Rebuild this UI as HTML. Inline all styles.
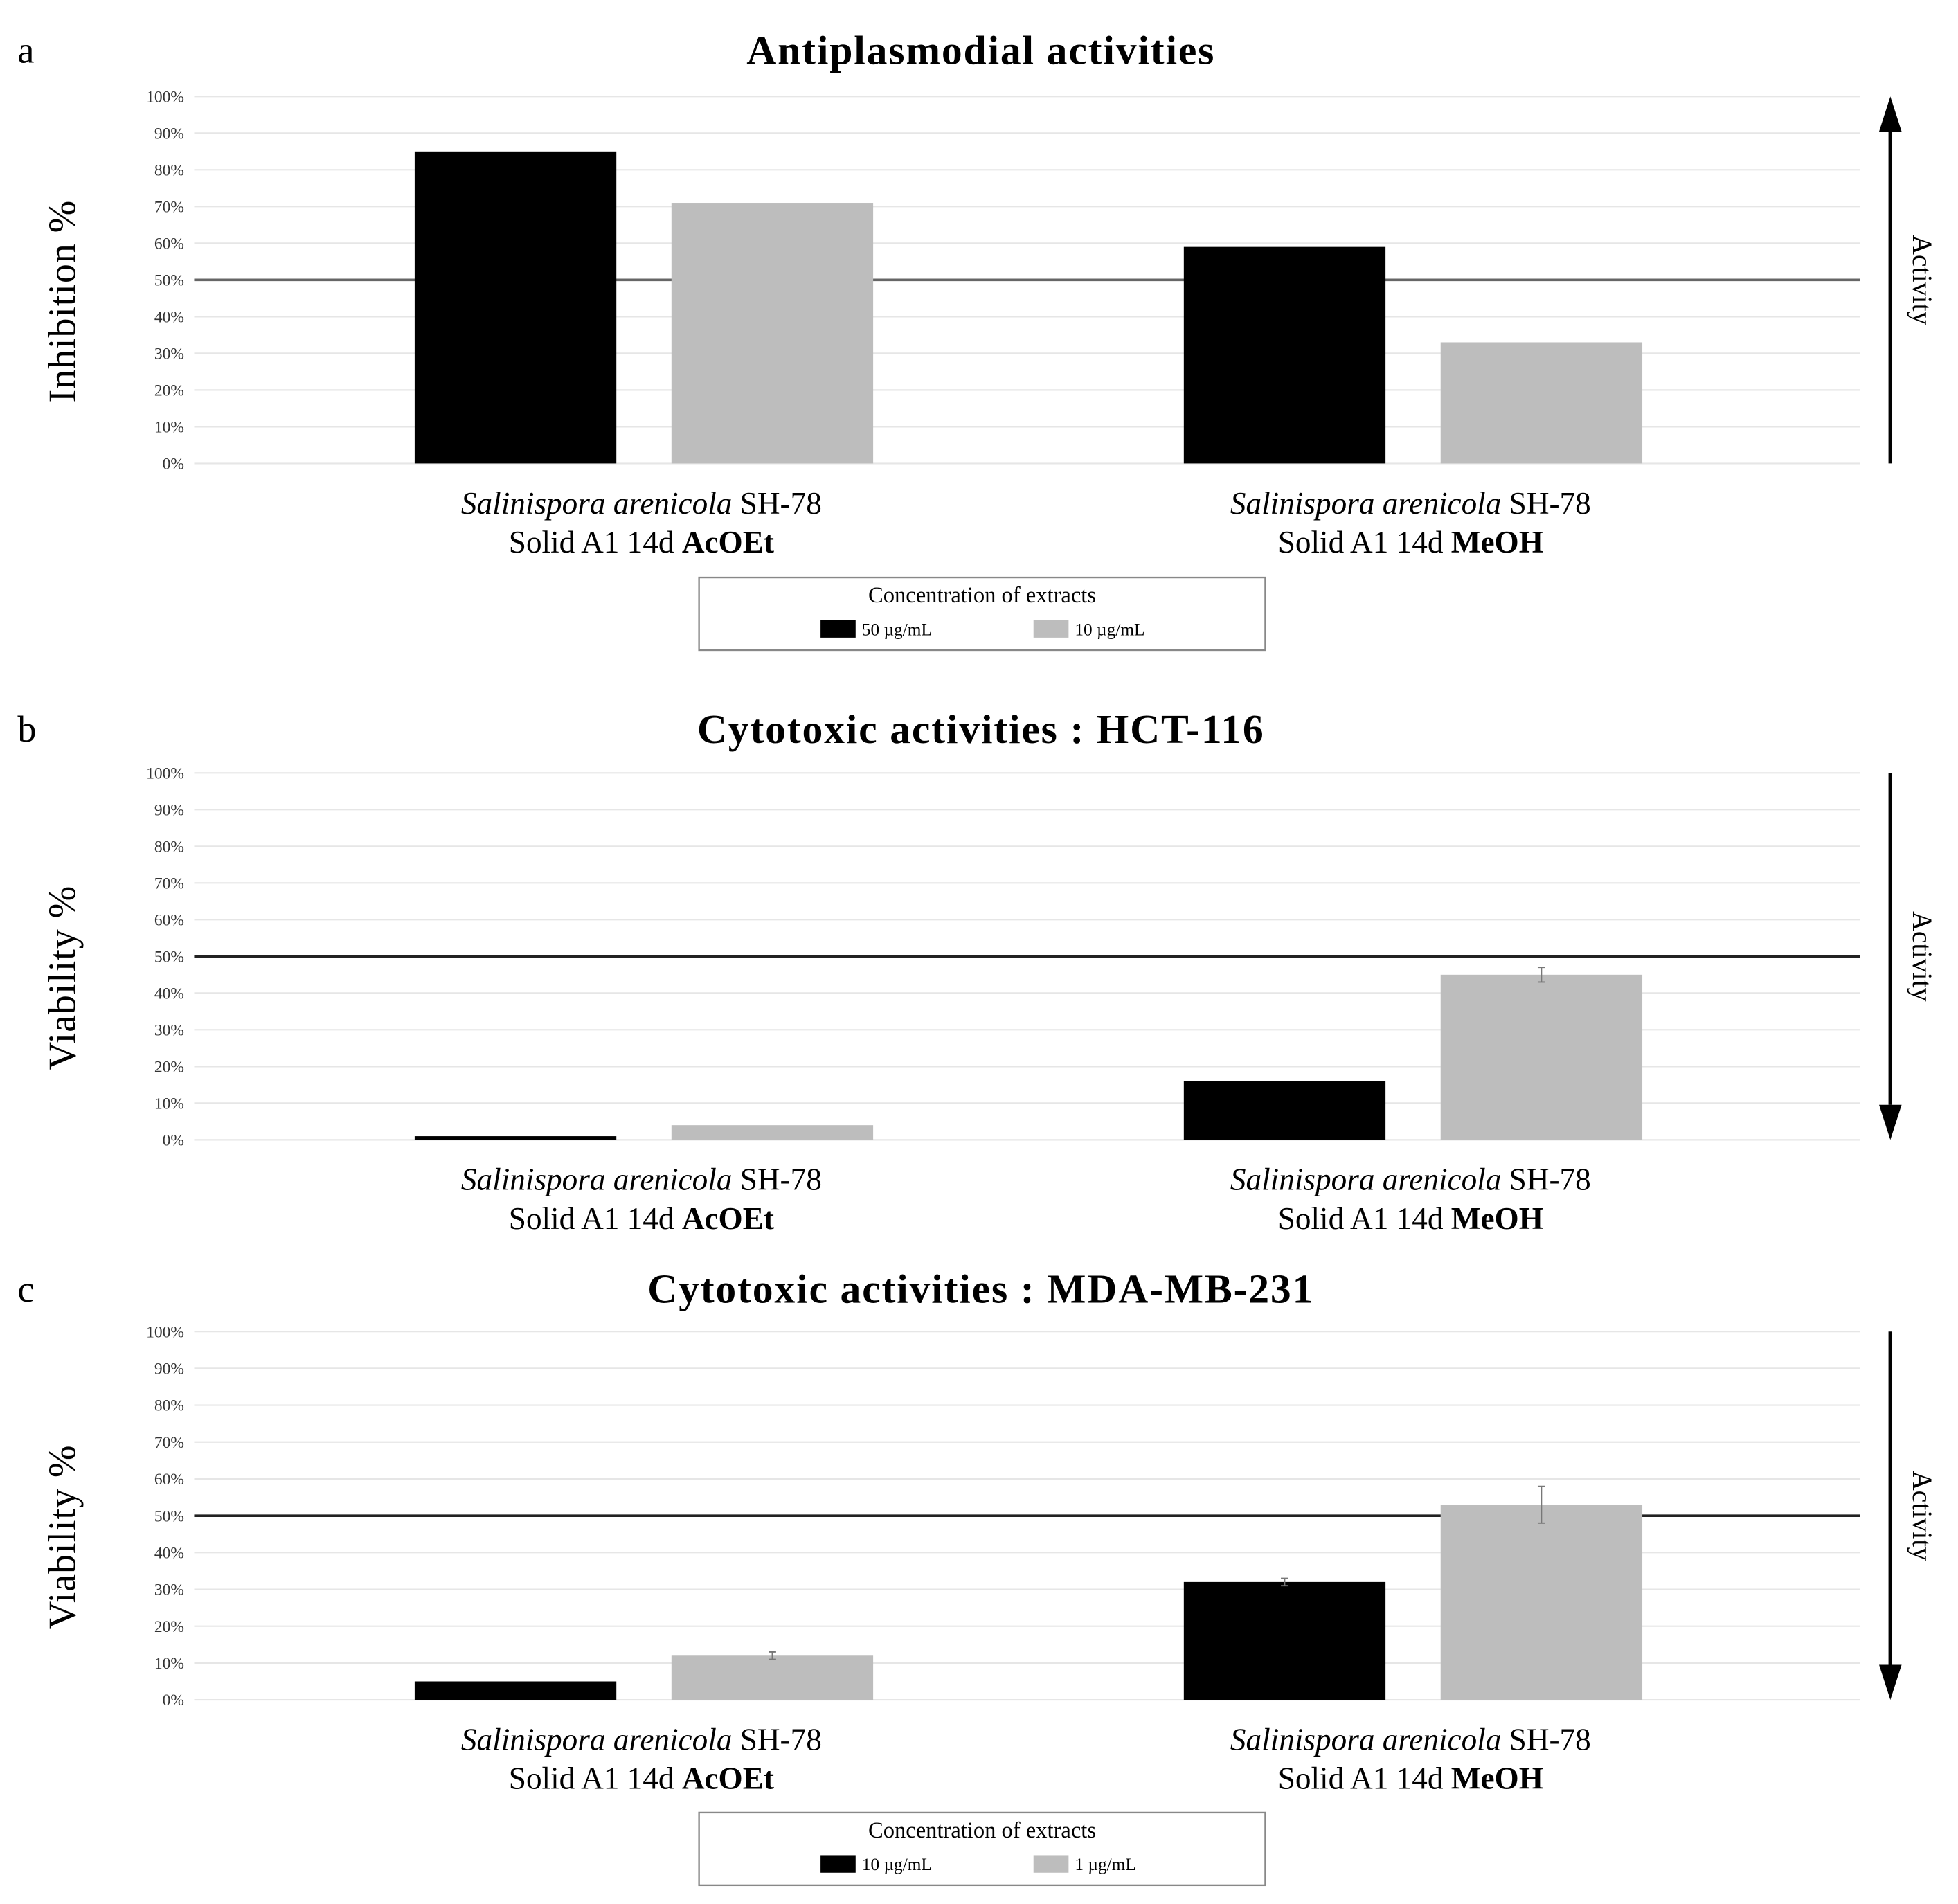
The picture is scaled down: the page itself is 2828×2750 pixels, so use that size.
<!DOCTYPE html>
<html><head><meta charset="utf-8"><style>
html,body{margin:0;padding:0;background:#fff;}
svg{display:block;}
text{font-family:"Liberation Serif",serif;}
</style></head><body>
<svg id="fig" width="2828" height="2750" viewBox="0 0 1563 1520" preserveAspectRatio="none" xmlns="http://www.w3.org/2000/svg"></svg>
<script>
const categories = ["AcOEt", "MeOH"];
const ticks = [0,10,20,30,40,50,60,70,80,90,100];
const tickLabels = ["0%","10%","20%","30%","40%","50%","60%","70%","80%","90%","100%"];
const aHigh = [85, 59];
const aLow = [71, 33];
const bHigh = [1, 16];
const bLow = [4, 45];
const bHighErr = [0, 0];
const bLowErr = [0, 2];
const cHigh = [5, 32];
const cLow = [12, 53];
const cHighErr = [0, 1];
const cLowErr = [1, 5];
const threshold = 50;

const NS = "http://www.w3.org/2000/svg";
const svg = document.getElementById("fig");
function mk(tag, attrs, parent){
  const e = document.createElementNS(NS, tag);
  for (const k in attrs) e.setAttribute(k, attrs[k]);
  (parent||svg).appendChild(e);
  return e;
}
const X0 = 155, X1 = 1485;
const groupLeft = [331, 945];
const barW = 161, barGap = 44;

function panel(cfg){
  const g = mk("g", {});
  
  
  const y = v => cfg.y0 - (v/100)*(cfg.y0 - cfg.y100);
  const lt = mk("text", {x:14, y:cfg.titleY+10, "font-size":30}, g);
  lt.textContent = cfg.letter;
  
  
  const tt = mk("text", {x:783, y:cfg.titleY+11, "font-size":33, "font-weight":"bold", "text-anchor":"middle", "letter-spacing":"1"}, g);
  tt.textContent = cfg.title;
  
  
  ticks.forEach((t,i)=>{
    const gl = mk("line", {x1:X0, x2:X1, y1:y(t), y2:y(t), stroke:"#e6e6e6", "stroke-width":1.2}, g);
    
    
    const tl = mk("text", {x:147, y:y(t)+4.5, "font-size":13, "text-anchor":"end", fill:"#333"}, g);
    tl.textContent = tickLabels[i];
    
    
  });
  const th = mk("line", {x1:X0, x2:X1, y1:y(threshold), y2:y(threshold), stroke:cfg.thColor, "stroke-width":2}, g);
  
  
  [cfg.high, cfg.low].forEach((series, s)=>{
    const errs = s===0 ? cfg.highErr : cfg.lowErr;
    series.forEach((v,i)=>{
      const x = groupLeft[i] + s*(barW+barGap);
      const r = mk("rect", {x:x, y:y(v), width:barW, height:y(0)-y(v), fill: s===0 ? "#000" : "#bdbdbd"}, g);
      
      
      if (errs && errs[i] > 0){
        const cx = x + barW/2;
        const e = mk("path", {d:`M${cx},${y(v+errs[i])}V${y(v-errs[i])}M${cx-3},${y(v+errs[i])}H${cx+3}M${cx-3},${y(v-errs[i])}H${cx+3}`, stroke:"#777", "stroke-width":1, fill:"none"}, g);
        
        
      }
    });
  });
  const yt = mk("text", {x:0, y:0, "font-size":31, "text-anchor":"middle", "letter-spacing":"0.5", transform:`translate(60,${(cfg.y0+cfg.y100)/2+17}) rotate(-90)`}, g);
  yt.textContent = cfg.ylabel;
  
  
  const ax = 1509;
  const up = cfg.arrowUp;
  const tipY = up ? cfg.y100 : cfg.y0;
  const baseY = up ? cfg.y0 : cfg.y100;
  const headY = up ? tipY + 28 : tipY - 28;
  const al = mk("line", {x1:ax, x2:ax, y1:baseY, y2:headY, stroke:"#000", "stroke-width":3}, g);
  
  
  const ah = mk("polygon", {points:`${ax},${tipY} ${ax-9},${headY} ${ax+9},${headY}`, fill:"#000"}, g);
  
  
  const at = mk("text", {x:0, y:0, "font-size":22, "text-anchor":"middle", transform:`translate(1527,${(cfg.y0+cfg.y100)/2}) rotate(90)`}, g);
  at.textContent = "Activity";
  
  
  categories.forEach((c,i)=>{
    const cx = groupLeft[i] + barW + barGap/2 - 2;
    const l1 = mk("text", {x:cx, y:cfg.y0+40, "font-size":25, "text-anchor":"middle"}, g);
    l1.innerHTML = '<tspan font-style="italic">Salinispora arenicola</tspan> SH-78';
    
    
    const l2 = mk("text", {x:cx, y:cfg.y0+71, "font-size":25, "text-anchor":"middle"}, g);
    l2.innerHTML = 'Solid A1 14d <tspan font-weight="bold">' + c + '</tspan>';
    
    
  });
}

function legend(top, lab1, lab2){
  const g = mk("g", {});
  
  
  const b = mk("rect", {x:558, y:top, width:452, height:58, fill:"#fff", stroke:"#888", "stroke-width":1.3}, g);
  
  
  const t = mk("text", {x:784, y:top+20, "font-size":18, "text-anchor":"middle"}, g);
  t.textContent = "Concentration of extracts";
  
  
  [[655,"#000",lab1],[825,"#bdbdbd",lab2]].forEach(([x,col,lab])=>{
    const s = mk("rect", {x:x, y:top+34, width:28, height:14, fill:col}, g);
    
    
    const l = mk("text", {x:x+33, y:top+46, "font-size":14}, g);
    l.textContent = lab;
    
    
  });
}

panel({name:"panel-a", letter:"a", title:"Antiplasmodial activities", titleY:40, y0:370, y100:77, high:aHigh, low:aLow, ylabel:"Inhibition %", thColor:"#666", arrowUp:true});
legend(461, "50 µg/mL", "10 µg/mL");
panel({name:"panel-b", letter:"b", title:"Cytotoxic activities : HCT-116", titleY:582, y0:910, y100:617, high:bHigh, low:bLow, highErr:bHighErr, lowErr:bLowErr, ylabel:"Viability %", thColor:"#222", arrowUp:false});
panel({name:"panel-c", letter:"c", title:"Cytotoxic activities : MDA-MB-231", titleY:1029, y0:1357, y100:1063, high:cHigh, low:cLow, highErr:cHighErr, lowErr:cLowErr, ylabel:"Viability %", thColor:"#222", arrowUp:false});
legend(1447, "10 µg/mL", "1 µg/mL");
</script>
</body></html>
